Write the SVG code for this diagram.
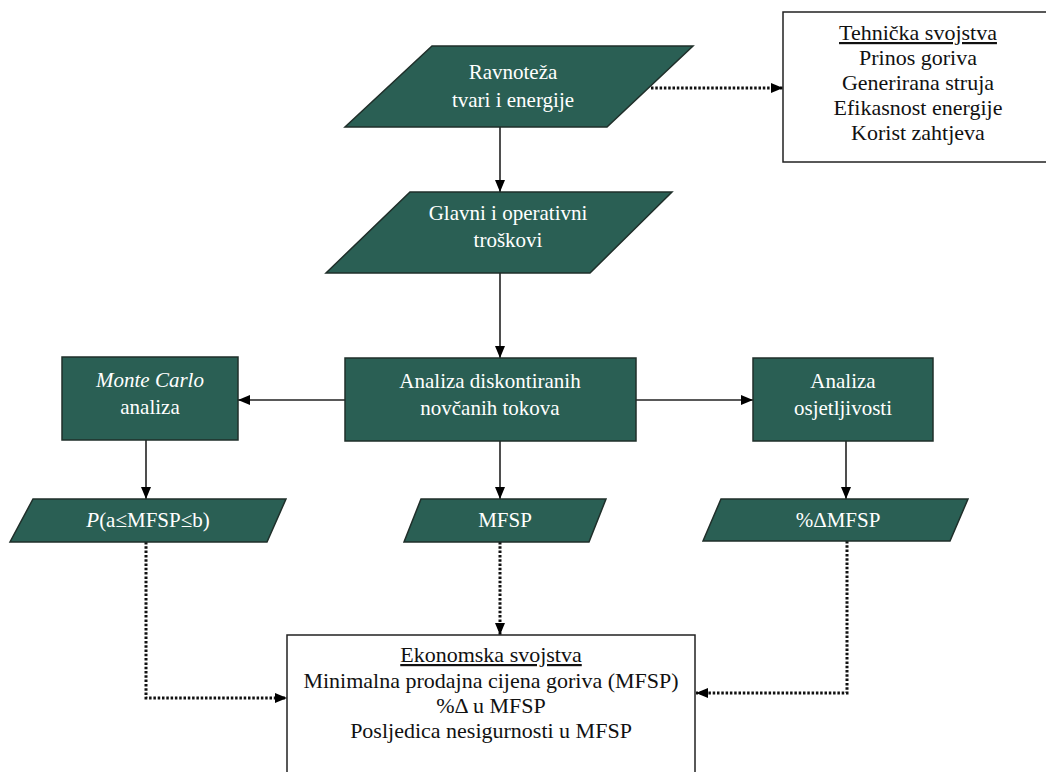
<svg xmlns="http://www.w3.org/2000/svg" width="1046" height="772" viewBox="0 0 1046 772">
<style>
.g{fill:#2a5f54;stroke:#1f2f2a;stroke-width:1.5}
.w{fill:#fff;stroke:#222;stroke-width:1.5}
.tw{font-family:"Liberation Serif","Times New Roman",serif;font-size:21px;fill:#fff;text-anchor:middle}
.tb{font-family:"Liberation Serif","Times New Roman",serif;font-size:22px;fill:#111;text-anchor:middle}
.tb2{font-family:"Liberation Serif","Times New Roman",serif;font-size:22px;fill:#111;text-anchor:middle}
.sol{stroke:#222;stroke-width:1.6;fill:none}
.dot{stroke:#111;stroke-width:3;stroke-dasharray:2.5 1.8;fill:none}
</style>
<defs>
<marker id="ah" viewBox="0 0 12 10" refX="12" refY="5" markerWidth="12" markerHeight="10" markerUnits="userSpaceOnUse" orient="auto">
<path d="M0,0 L12,5 L0,10 Z" fill="#000"/>
</marker>
</defs>
<rect width="1046" height="772" fill="#fff"/>
<g id="connectors">
<line class="dot" x1="651" y1="88" x2="783" y2="88" marker-end="url(#ah)"/>
<line class="sol" x1="500" y1="127" x2="500" y2="192" marker-end="url(#ah)"/>
<line class="sol" x1="500" y1="273" x2="500" y2="358" marker-end="url(#ah)"/>
<line class="sol" x1="345" y1="400" x2="238" y2="400" marker-end="url(#ah)"/>
<line class="sol" x1="636" y1="400" x2="753" y2="400" marker-end="url(#ah)"/>
<line class="sol" x1="146" y1="440" x2="146" y2="499" marker-end="url(#ah)"/>
<line class="sol" x1="500" y1="441" x2="500" y2="499" marker-end="url(#ah)"/>
<line class="sol" x1="846" y1="441" x2="846" y2="499" marker-end="url(#ah)"/>
<polyline class="dot" points="146,542 146,698 287,698" marker-end="url(#ah)"/>
<line class="dot" x1="500" y1="542" x2="500" y2="635" marker-end="url(#ah)"/>
<polyline class="dot" points="847,541 847,693 696,693" marker-end="url(#ah)"/>
</g>
<g id="n-ravnoteza">
<polygon class="g" points="432,46 693,46 607,127 345,127"/>
<text class="tw" x="513" y="79">Ravnoteža</text>
<text class="tw" x="513" y="107">tvari i energije</text>
</g>
<g id="n-tehnicka">
<rect class="w" x="783" y="12" width="270" height="150"/>
<text class="tb" x="918" y="40" text-decoration="underline">Tehnička svojstva</text>
<text class="tb" x="918" y="65">Prinos goriva</text>
<text class="tb" x="918" y="90">Generirana struja</text>
<text class="tb" x="918" y="115">Efikasnost energije</text>
<text class="tb" x="918" y="140">Korist zahtjeva</text>
</g>
<g id="n-troskovi">
<polygon class="g" points="410,192 672,192 590,273 326,273"/>
<text class="tw" x="508" y="220">Glavni i operativni</text>
<text class="tw" x="508" y="247">troškovi</text>
</g>
<g id="n-dcf">
<rect class="g" x="345" y="358" width="291" height="83"/>
<text class="tw" x="490" y="388">Analiza diskontiranih</text>
<text class="tw" x="490" y="415">novčanih tokova</text>
</g>
<g id="n-montecarlo">
<rect class="g" x="62" y="357" width="176" height="83"/>
<text class="tw" x="150" y="387"><tspan font-style="italic">Monte Carlo</tspan></text>
<text class="tw" x="150" y="414">analiza</text>
</g>
<g id="n-osjetljivost">
<rect class="g" x="753" y="358" width="180" height="83"/>
<text class="tw" x="843" y="388">Analiza</text>
<text class="tw" x="843" y="415">osjetljivosti</text>
</g>
<g id="n-prob">
<polygon class="g" points="33,499 286,499 267,542 10,542"/>
<text class="tw" x="148" y="527"><tspan font-style="italic">P</tspan>(a≤MFSP≤b)</text>
</g>
<g id="n-mfsp">
<polygon class="g" points="421,499 606,499 589,542 404,542"/>
<text class="tw" x="505" y="527">MFSP</text>
</g>
<g id="n-delta">
<polygon class="g" points="721,499 968,499 950,541 703,541"/>
<text class="tw" x="838" y="527">%ΔMFSP</text>
</g>
<g id="n-ekonomska">
<rect class="w" x="287" y="635" width="408" height="150"/>
<text class="tb2" x="491" y="662" text-decoration="underline">Ekonomska svojstva</text>
<text class="tb2" x="491" y="688">Minimalna prodajna cijena goriva (MFSP)</text>
<text class="tb2" x="491" y="713">%Δ u MFSP</text>
<text class="tb2" x="491" y="738">Posljedica nesigurnosti u MFSP</text>
</g>
</svg>
